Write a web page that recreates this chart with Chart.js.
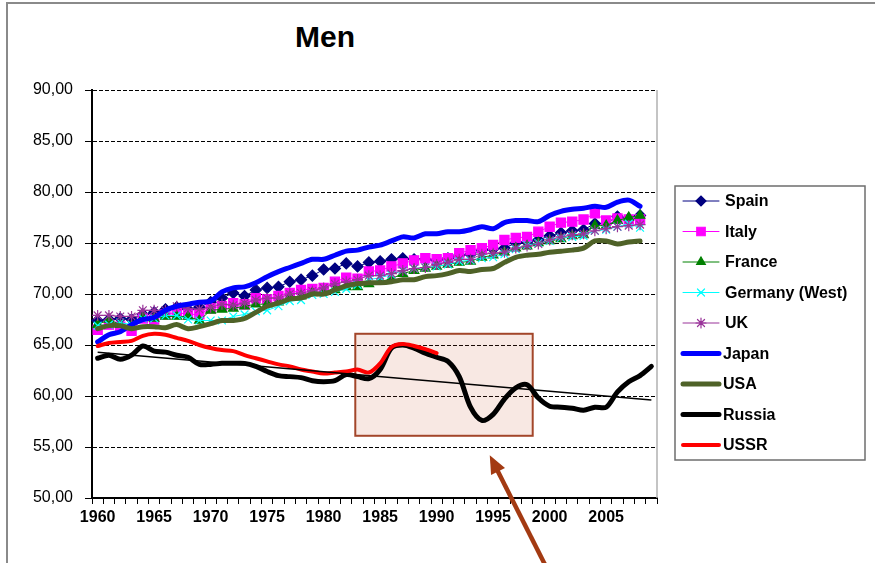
<!DOCTYPE html>
<html lang="en">
<head>
    <meta charset="UTF-8">
    <title>Men</title>
    <script src="https://cdn.jsdelivr.net/npm/chart.js"></script>
    <style>
        body {
            margin: 0;
            background: white;
            font-family: 'Liberation Sans', Arial, sans-serif;
        }
        #wrap {
            position: relative;
            width: 875px;
            height: 563px;
            overflow: hidden;
        }
        #frame {
            position: absolute;
            left: 6px;
            top: 2px;
            width: 900px;
            height: 600px;
            border-left: 2px solid #8a8a8a;
            border-top: 2px solid #8a8a8a;
        }
        #title {
            position: absolute;
            left: 225px;
            width: 200px;
            top: 20px;
            text-align: center;
            font-family: 'Liberation Sans Narrow', 'Liberation Sans', Arial, sans-serif;
            font-weight: bold;
            font-size: 30px;
            color: black;
        }
        canvas {
            position: absolute;
            left: 0;
            top: 0;
        }
    </style>
</head>
<body>
<div id="wrap">
    <div id="frame"></div>
    <div id="title">Men</div>
    <canvas id="chart" width="875" height="563"></canvas>
</div>
<script>
    const years = [
        '1960','1961','1962','1963','1964','1965','1966','1967','1968','1969',
        '1970','1971','1972','1973','1974','1975','1976','1977','1978','1979',
        '1980','1981','1982','1983','1984','1985','1986','1987','1988','1989',
        '1990','1991','1992','1993','1994','1995','1996','1997','1998','1999',
        '2000','2001','2002','2003','2004','2005','2006','2007','2008','2009'
    ];
    const yearTicks = ['1960','1965','1970','1975','1980','1985','1990','1995','2000','2005'];

    const spain = [
        67.4,67.5,67.6,67.5,68.0,68.2,68.5,68.7,68.5,68.7,
        69.2,69.6,70.1,69.8,70.4,70.6,70.7,71.2,71.4,71.8,
        72.4,72.5,73.0,72.7,73.1,73.2,73.4,73.5,73.4,73.4,
        73.3,73.5,73.8,73.9,74.3,74.4,74.5,75.0,75.1,75.3,
        75.7,76.0,76.2,76.3,76.9,76.9,77.6,77.4,77.7,null
    ];
    const italy = [
        66.5,67.0,66.8,66.4,67.6,67.5,68.0,68.2,68.0,68.0,
        68.6,68.8,69.1,69.0,69.6,69.5,69.8,70.1,70.4,70.5,
        70.6,71.2,71.6,71.5,72.2,72.3,72.7,73.0,73.3,73.5,
        73.4,73.5,74.0,74.3,74.5,74.8,75.3,75.5,75.6,76.1,
        76.6,77.0,77.1,77.3,77.9,77.2,77.4,77.3,77.3,null
    ];
    const france = [
        67.0,67.5,67.0,66.9,67.7,67.6,67.8,67.8,67.8,67.4,
        68.4,68.5,68.6,68.8,69.0,69.0,69.2,69.7,69.8,70.1,
        70.2,70.4,70.7,70.7,71.0,71.2,71.5,72.0,72.3,72.5,
        72.7,72.9,73.1,73.2,73.6,73.8,74.1,74.5,74.7,75.0,
        75.2,75.4,75.7,75.8,76.7,76.7,77.2,77.5,77.7,null
    ];
    const germanyWest = [
        66.9,67.0,67.2,67.0,67.6,67.6,67.9,67.9,67.5,67.4,
        67.4,67.4,67.8,68.0,68.3,68.4,68.8,69.3,69.4,69.9,
        70.0,70.2,70.5,70.9,71.4,71.6,71.9,72.3,72.5,72.6,
        72.7,72.9,73.2,73.3,73.5,73.6,73.9,74.4,74.8,75.0,
        75.2,75.5,75.6,75.7,76.2,76.3,76.6,76.9,76.5,null
    ];
    const uk = [
        67.9,67.9,67.8,67.8,68.4,68.4,68.4,68.8,68.6,68.5,
        68.7,69.0,68.9,69.1,69.4,69.6,69.6,70.0,70.1,70.3,
        70.6,71.0,71.2,71.4,71.8,71.8,72.0,72.3,72.5,72.6,
        72.9,73.1,73.4,73.4,73.9,74.0,74.1,74.5,74.7,74.9,
        75.3,75.6,75.8,75.9,76.2,76.4,76.6,76.7,76.8,null
    ];
    const japan = [
        65.3,66.0,66.3,67.0,67.5,67.7,68.4,68.8,69.0,69.2,
        69.3,70.2,70.6,70.7,71.1,71.7,72.2,72.6,73.0,73.4,
        73.4,73.8,74.2,74.3,74.6,74.8,75.2,75.6,75.5,75.9,
        75.9,76.1,76.1,76.3,76.6,76.4,77.0,77.2,77.2,77.1,
        77.7,78.1,78.3,78.4,78.6,78.5,79.0,79.2,78.6,null
    ];
    const usa = [
        66.6,66.9,66.9,66.6,66.8,66.8,66.7,67.0,66.6,66.8,
        67.1,67.4,67.4,67.6,68.2,68.8,69.1,69.5,69.6,70.0,
        70.0,70.4,70.8,71.0,71.1,71.1,71.2,71.4,71.4,71.7,
        71.8,72.0,72.3,72.2,72.4,72.5,73.1,73.6,73.8,73.9,
        74.1,74.2,74.3,74.5,75.2,75.2,74.9,75.1,75.2,null
    ];
    const russia = [
        63.7,64.0,63.6,64.0,64.9,64.4,64.3,64.0,63.8,63.1,
        63.1,63.2,63.2,63.2,62.9,62.4,62.0,61.9,61.8,61.5,
        61.4,61.5,62.1,61.9,61.7,62.6,64.7,65.0,64.7,64.2,
        63.8,63.4,61.9,58.9,57.6,58.2,59.7,60.8,61.1,59.8,
        59.0,58.9,58.8,58.6,58.9,58.9,60.4,61.4,62.0,62.9
    ];
    const ussr = [
        64.9,65.2,65.3,65.4,65.9,66.1,66.0,65.7,65.4,65.0,
        64.7,64.5,64.4,64.0,63.7,63.4,63.1,62.9,62.6,62.4,
        62.2,62.3,62.4,62.6,62.3,63.2,64.8,65.1,64.9,64.6,
        64.2
    ];
    // straight trend line for Russia, two end points
    const trendYears = ['1960', '2009'];
    const trendValues = [64.3, 59.6];

    // highlighted period (years, values) and arrow tip
    const boxYears = [1982.8, 1998.5];
    const boxValues = [56.1, 66.1];
    const arrowTip = [1994.7, 54.2];

    const series = [
        { label: 'Spain', data: spain, color: '#000080', point: 'rectRot', radius: 5.5, width: 1 },
        { label: 'Italy', data: italy, color: '#ff00ff', point: 'rect', radius: 6.5, width: 1 },
        { label: 'France', data: france, color: '#008000', point: 'triangle', radius: 5.5, width: 1 },
        { label: 'Germany (West)', data: germanyWest, color: '#00ffff', point: 'crossRot', radius: 5.5, width: 1 },
        { label: 'UK', data: uk, color: '#993399', point: 'star', radius: 5.5, width: 1 },
        { label: 'Japan', data: japan, color: '#0000ff', point: false, radius: 0, width: 5 },
        { label: 'USA', data: usa, color: '#4f6228', point: false, radius: 0, width: 5 },
        { label: 'Russia', data: russia, color: '#000000', point: false, radius: 0, width: 5 },
        { label: 'USSR', data: ussr, color: '#ff0000', point: false, radius: 0, width: 4 }
    ];

    const datasets = series.map((s, i) => ({
        label: s.label,
        data: s.data,
        borderColor: s.color,
        backgroundColor: s.color,
        borderWidth: s.width,
        pointStyle: s.point,
        pointRadius: s.radius,
        pointBorderWidth: 1.2,
        pointBorderColor: s.color,
        pointBackgroundColor: s.color,
        tension: s.point ? 0 : 0.3,
        borderCapStyle: 'round',
        borderJoinStyle: 'round',
        order: series.length - i
    }));
    datasets.push({
        label: 'trend',
        data: trendYears.map((y, i) => ({ x: y, y: trendValues[i] })),
        borderColor: '#000000',
        borderWidth: 1.5,
        pointRadius: 0,
        order: 0
    });

    const decorPlugin = {
        id: 'decor',
        beforeDatasetsDraw(chart) {
            const { ctx, scales: { x, y } } = chart;
            const step = x.getPixelForValue(1) - x.getPixelForValue(0);
            const px = yr => x.getPixelForValue(0) + (yr - 1960) * step;
            const x0 = px(boxYears[0]), x1 = px(boxYears[1]);
            const y0 = y.getPixelForValue(boxValues[1]), y1 = y.getPixelForValue(boxValues[0]);
            ctx.save();
            ctx.fillStyle = 'rgba(200, 80, 40, 0.13)';
            ctx.fillRect(x0, y0, x1 - x0, y1 - y0);
            ctx.strokeStyle = '#a3462a';
            ctx.lineWidth = 2;
            ctx.strokeRect(x0, y0, x1 - x0, y1 - y0);
            ctx.restore();
        },
        afterDraw(chart) {
            const { ctx, chartArea, scales: { x, y } } = chart;
            ctx.save();
            // right border of plot area
            ctx.strokeStyle = '#b0b0b0';
            ctx.lineWidth = 1.5;
            ctx.beginPath();
            ctx.moveTo(chartArea.right, chartArea.top);
            ctx.lineTo(chartArea.right, chartArea.bottom);
            ctx.stroke();

            // arrow
            const step = x.getPixelForValue(1) - x.getPixelForValue(0);
            const tx = x.getPixelForValue(0) + (arrowTip[0] - 1960) * step;
            const ty = y.getPixelForValue(arrowTip[1]);
            const ang = Math.atan2(115, 58);
            const len = 140;
            ctx.strokeStyle = '#a33a12';
            ctx.fillStyle = '#a33a12';
            ctx.lineWidth = 4.5;
            ctx.beginPath();
            ctx.moveTo(tx + Math.cos(ang) * 14, ty + Math.sin(ang) * 14);
            ctx.lineTo(tx + Math.cos(ang) * len, ty + Math.sin(ang) * len);
            ctx.stroke();
            ctx.beginPath();
            ctx.moveTo(tx, ty);
            ctx.lineTo(tx + Math.cos(ang + 0.4) * 20, ty + Math.sin(ang + 0.4) * 20);
            ctx.lineTo(tx + Math.cos(ang - 0.4) * 20, ty + Math.sin(ang - 0.4) * 20);
            ctx.closePath();
            ctx.fill();

            // legend
            const lx = chartArea.right + 18, ly = 186, lw = 190, lh = 274, gap = 30.5;
            ctx.strokeStyle = '#6e6e6e';
            ctx.lineWidth = 1.5;
            ctx.strokeRect(lx, ly, lw, lh);
            ctx.font = 'bold 16px "Liberation Sans", Arial, sans-serif';
            ctx.textBaseline = 'middle';
            series.forEach((s, i) => {
                const cy = ly + 15 + i * gap;
                ctx.strokeStyle = s.color;
                ctx.fillStyle = s.color;
                ctx.lineCap = 'round';
                ctx.lineWidth = s.width;
                ctx.beginPath();
                ctx.moveTo(lx + 8, cy);
                ctx.lineTo(lx + 44, cy);
                ctx.stroke();
                if (s.point) {
                    ctx.lineWidth = 1.2;
                    Chart.helpers.drawPoint(ctx, { pointStyle: s.point, radius: s.radius - 0.5, rotation: 0, borderWidth: 1.2 }, lx + 26, cy);
                }
                ctx.fillStyle = '#000';
                ctx.fillText(s.label, lx + (s.point ? 50 : 48), cy + 1);
            });
            ctx.restore();
        }
    };

    new Chart(document.getElementById('chart'), {
        type: 'line',
        data: { labels: years, datasets: datasets },
        options: {
            responsive: false,
            animation: false,
            layout: { padding: { top: 90, right: 218, left: 0, bottom: 0 } },
            plugins: {
                legend: { display: false },
                title: { display: false },
                tooltip: { enabled: false }
            },
            scales: {
                x: {
                    offset: true,
                    afterFit(scale) { scale.height = 65; },
                    grid: {
                        offset: true,
                        drawOnChartArea: false,
                        drawTicks: true,
                        tickLength: 6,
                        color: '#000'
                    },
                    border: { color: '#000', width: 2 },
                    ticks: {
                        autoSkip: false,
                        maxRotation: 0,
                        padding: 4,
                        color: '#000',
                        font: { family: '"Liberation Sans", Arial, sans-serif', size: 16, weight: 'bold' },
                        callback(value) {
                            const lab = this.getLabelForValue(value);
                            return yearTicks.includes(lab) ? lab : '';
                        }
                    }
                },
                y: {
                    min: 50,
                    max: 90,
                    afterFit(scale) { scale.width = 92; },
                    grid: {
                        color: '#000',
                        lineWidth: 1,
                        tickLength: 7,
                        tickColor: '#000'
                    },
                    border: { color: '#000', width: 2, dash: [4, 2] },
                    ticks: {
                        stepSize: 5,
                        padding: 12,
                        color: '#000',
                        font: { family: '"Liberation Sans", Arial, sans-serif', size: 16 },
                        callback: v => v.toFixed(2).replace('.', ',')
                    }
                }
            }
        },
        plugins: [decorPlugin]
    });
</script>
</body>
</html>
